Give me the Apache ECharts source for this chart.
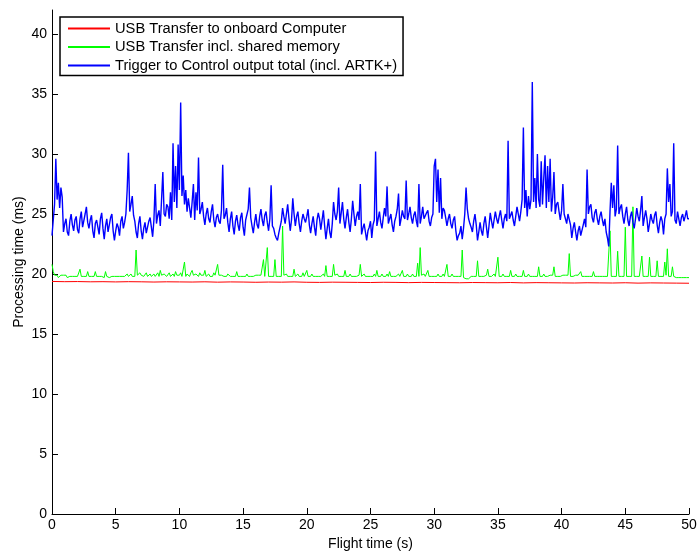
<!DOCTYPE html>
<html>
<head>
<meta charset="utf-8">
<script src="https://cdn.jsdelivr.net/npm/echarts@6/dist/echarts.min.js"></script>
<style>
html,body{margin:0;padding:0;background:#fff;}
#chart{width:698px;height:552px;}
</style>
</head>
<body>
<div id="chart"></div>
<script>
// ---- data ----
const seriesNames = [
  'USB Transfer to onboard Computer',
  'USB Transfer incl. shared memory',
  'Trigger to Control output total (incl. ARTK+)'
];
const xTicks = [0, 5, 10, 15, 20, 25, 30, 35, 40, 45, 50];
const yTicks = [0, 5, 10, 15, 20, 25, 30, 35, 40];
const sampleStep = 0.1; // seconds between samples (blue & green)
const redStep = 1.0;    // seconds between samples (red)

// Trigger to Control output total, sampled every 0.1 s
const blueValues = [
23.2,24.5,25.8,29.6,26.2,27.6,25.5,27.2,26.4,23.5,
24.2,24.6,23.5,23.2,24.4,25.0,24.1,23.6,24.5,24.8,
23.7,23.4,24.6,25.2,23.9,24.0,25.0,25.6,24.3,23.8,
24.5,24.9,23.6,23.0,24.2,24.5,23.9,23.3,24.6,25.1,
23.8,22.9,24.0,24.6,23.5,23.4,24.7,25.0,23.6,22.8,
23.6,24.2,23.9,23.2,24.4,24.8,23.8,24.3,25.0,27.0,
30.1,25.2,25.8,26.5,24.9,24.4,23.5,23.0,24.2,24.8,
23.6,22.9,23.8,24.3,23.4,23.5,24.4,24.7,23.9,23.1,
24.5,27.5,24.2,24.9,25.3,24.0,26.2,28.5,25.0,24.8,
25.8,25.6,24.6,26.8,24.5,30.9,26.0,29.0,25.5,30.8,
27.0,34.3,26.5,28.2,25.8,27.0,25.2,26.3,25.5,24.7,
26.0,27.5,24.5,26.8,25.3,29.7,25.0,25.4,26.0,24.8,
24.1,25.0,25.5,24.6,24.3,25.2,25.8,24.5,23.9,24.7,
25.0,24.4,24.2,25.3,29.1,24.6,24.9,25.5,24.3,23.5,
24.6,25.2,24.0,23.3,24.4,24.9,24.1,23.6,24.7,25.1,
23.9,23.2,24.5,24.6,25.4,27.2,24.7,24.0,23.4,24.3,
25.0,24.1,23.8,24.8,25.4,24.5,24.0,24.9,25.2,24.3,
23.6,24.6,27.4,24.0,23.8,23.3,23.0,22.8,23.4,23.5,
24.4,25.5,24.8,24.2,25.0,25.8,24.6,23.6,24.5,26.3,
25.0,24.0,24.8,25.2,24.2,23.5,24.4,25.0,24.6,24.3,
24.8,25.4,24.1,23.4,24.2,24.8,23.9,23.2,24.5,25.1,
24.6,23.7,24.5,25.3,24.0,22.9,23.8,24.6,23.5,23.0,
24.2,26.0,25.0,24.5,25.2,27.2,24.2,25.1,26.0,24.6,
23.8,24.7,25.4,24.3,23.5,24.6,26.1,25.0,24.0,24.8,
25.2,24.5,27.5,23.3,23.8,24.2,23.5,22.8,23.6,23.9,
24.4,23.0,24.1,24.5,30.2,24.0,24.6,25.2,24.3,23.8,
24.7,25.5,24.8,27.3,24.2,24.6,25.0,24.1,23.5,24.4,
24.8,25.4,26.7,24.0,24.6,25.3,24.8,24.6,27.8,24.5,
25.0,25.6,24.7,24.2,24.9,25.2,24.4,23.9,27.5,24.2,
24.8,25.6,24.6,24.5,25.1,25.3,24.4,24.0,24.7,25.0,
29.0,29.6,26.0,28.7,25.1,28.0,24.6,25.5,25.3,24.7,
24.0,24.6,25.0,24.2,23.8,24.5,24.8,23.6,22.8,23.2,
23.4,24.0,22.9,23.8,25.0,27.2,25.4,24.6,24.2,23.9,
23.5,24.4,25.0,24.1,22.8,23.5,24.3,23.6,23.2,24.2,
24.8,23.9,23.0,24.0,25.1,24.4,23.8,24.5,25.2,24.6,
24.2,24.8,25.3,24.5,23.8,24.6,25.0,24.4,31.1,24.6,
24.9,25.2,24.5,24.0,24.8,25.6,25.0,24.4,25.2,26.2,
32.2,25.5,27.0,24.8,26.5,25.4,26.2,36.0,26.0,28.0,
25.5,30.0,26.2,25.6,29.4,25.8,28.0,29.9,25.5,29.0,
26.0,29.6,25.2,26.4,28.5,25.0,25.8,26.0,25.2,24.5,
25.3,27.5,25.0,24.6,24.2,25.0,24.9,24.1,23.0,23.8,
24.3,23.5,22.8,23.6,24.0,23.2,23.3,24.1,24.6,23.9,
28.7,25.0,25.6,25.8,24.7,24.3,25.1,25.4,24.6,24.1,
24.8,25.2,24.5,24.0,24.6,23.5,23.0,22.3,25.2,27.6,
25.5,27.4,24.8,25.4,30.7,25.0,25.5,25.8,24.8,24.2,
25.0,25.6,24.5,24.0,24.8,25.2,24.3,23.8,24.6,25.5,
24.8,24.4,25.3,26.5,24.0,24.7,25.3,24.6,23.5,24.2,
25.0,24.5,24.2,24.9,25.2,24.1,23.4,24.3,24.8,24.4,
23.3,24.6,25.0,28.8,26.0,27.5,24.8,25.2,30.9,24.5,
24.2,25.2,24.6,24.0,24.7,25.0,24.4,24.8,25.3,24.6,
24.6
];

// USB Transfer incl. shared memory, sampled every 0.1 s
const greenValues = [
20.8,20.2,19.9,19.8,19.9,19.7,19.8,19.9,19.8,19.9,
19.8,19.9,19.7,19.8,19.8,19.9,19.8,19.7,19.8,19.9,
19.8,19.9,20.4,19.8,19.7,19.8,19.9,19.8,20.2,19.8,
19.7,19.8,19.9,19.8,20.2,19.8,19.7,19.8,19.9,19.8,
19.8,19.7,20.2,19.8,19.9,19.7,19.8,19.8,19.7,19.8,
19.9,19.8,19.7,19.8,19.9,19.8,19.7,19.8,19.9,20.0,
19.8,19.9,20.0,19.8,19.9,19.8,22.0,19.9,19.8,20.1,
19.9,20.0,19.8,19.9,20.1,19.8,19.9,20.0,19.8,19.9,
20.0,19.8,19.9,20.1,19.8,20.3,19.9,19.8,20.0,19.9,
19.8,19.9,20.1,19.8,19.9,20.0,19.8,20.2,19.9,19.8,
19.9,20.1,19.8,19.9,21.0,19.8,20.0,19.9,19.8,20.1,
20.3,19.9,19.8,20.0,19.9,19.8,20.1,19.9,19.8,19.9,
20.3,19.8,19.9,20.0,19.8,19.9,19.8,20.1,19.9,19.8,
20.8,19.9,19.8,19.9,20.0,19.8,19.9,19.8,20.0,19.9,
19.8,19.9,19.8,19.9,19.8,20.2,19.8,19.9,19.8,19.9,
19.8,19.9,19.8,20.0,19.8,19.9,19.8,19.9,19.8,19.8,
19.9,19.8,19.9,19.8,19.9,19.8,21.2,19.8,19.9,22.2,
19.8,19.9,19.8,19.9,19.8,21.2,19.8,19.9,19.8,19.9,
19.8,24.0,19.9,19.8,20.0,19.8,19.9,19.8,19.9,19.8,
20.4,19.8,19.9,20.0,19.8,19.9,19.8,20.1,19.8,19.9,
20.3,19.8,19.9,19.8,20.0,19.8,19.9,19.8,19.9,19.8,
19.9,19.8,19.9,20.0,19.8,20.7,19.8,19.9,19.8,19.9,
19.8,20.8,19.9,19.8,20.0,19.8,19.9,19.8,19.9,19.8,
20.3,19.8,19.9,19.8,20.0,19.8,19.9,19.8,19.9,19.8,
19.8,19.9,20.8,19.8,19.9,20.0,19.8,19.9,19.8,19.9,
19.8,19.9,19.8,20.0,19.8,20.3,19.8,19.9,19.8,20.0,
19.8,19.9,19.8,20.0,19.8,20.2,19.8,19.9,19.8,19.9,
19.8,19.9,20.0,19.8,19.9,20.3,19.8,19.9,19.8,20.0,
19.8,19.9,19.8,20.0,19.8,19.9,19.8,20.9,19.8,22.2,
19.9,19.8,20.0,19.8,19.9,20.3,19.8,19.9,19.8,19.9,
19.8,19.9,19.8,20.0,19.8,19.9,19.8,20.0,19.8,19.9,
20.8,19.8,19.9,19.8,20.0,19.8,19.9,19.8,19.9,19.8,
19.9,19.8,22.0,19.7,19.6,19.6,19.7,19.6,19.7,19.8,
19.7,19.8,19.7,19.8,21.1,19.8,19.7,19.8,19.9,19.8,
19.8,19.9,20.4,19.8,19.9,19.8,19.9,20.0,19.8,19.9,
21.4,19.8,19.9,19.8,20.0,19.8,19.9,19.8,19.9,19.8,
20.3,19.8,19.9,19.8,20.0,19.8,19.9,19.8,19.9,19.8,
20.3,19.8,19.9,19.8,20.0,19.8,19.9,19.8,19.9,19.8,
19.9,19.8,20.6,19.8,19.9,19.8,20.0,19.8,19.9,19.8,
19.8,19.9,19.8,19.9,20.6,19.8,19.9,19.8,19.9,19.8,
19.8,19.9,19.8,19.9,19.8,19.9,21.7,19.8,19.9,19.8,
19.8,19.9,19.8,19.9,19.8,20.2,19.8,19.9,19.8,19.9,
19.8,19.9,19.8,19.9,19.8,20.2,19.8,19.9,19.8,19.9,
19.8,19.7,19.8,19.9,19.8,19.7,19.8,19.9,23.6,19.8,
19.9,19.8,19.9,19.8,21.9,19.8,19.9,19.8,19.9,19.8,
23.9,19.8,19.9,19.8,19.9,19.8,25.6,19.8,19.9,19.8,
19.9,19.8,19.9,21.5,19.8,19.9,19.8,19.9,19.8,21.4,
19.8,19.9,19.8,19.9,19.8,21.1,19.8,19.9,19.8,19.9,
19.8,21.0,19.9,22.1,19.8,19.9,19.8,20.6,19.8,19.9,
19.7,19.8,19.7,19.6,19.7,19.6,19.7,19.6,19.7,19.7,
19.7
];

// USB Transfer to onboard Computer, sampled every 1 s
const redValues = [
19.38,19.36,19.37,19.35,19.36,19.34,19.36,19.35,19.33,19.35,
19.34,19.33,19.35,19.32,19.34,19.33,19.31,19.33,19.32,19.34,
19.31,19.30,19.32,19.31,19.30,19.29,19.31,19.30,19.28,19.30,
19.29,19.28,19.27,19.29,19.28,19.27,19.29,19.26,19.28,19.27,
19.26,19.25,19.27,19.26,19.25,19.27,19.24,19.26,19.25,19.24,
19.23
];

// ---- chart ----
const FONT = '"Liberation Sans", Arial, Helvetica, sans-serif';
const toPairs = (vals, step) => vals.map((v, i) => [+(i * step).toFixed(2), v]);

const chart = echarts.init(document.getElementById('chart'), null, {renderer: 'canvas'});
chart.setOption({
  animation: false,
  backgroundColor: '#fff',
  grid: {left: 52, right: 9, top: 10, bottom: 38, containLabel: false, outerBoundsMode: 'none'},
  legend: {
    orient: 'vertical',
    left: 60, top: 17,
    data: seriesNames,
    itemWidth: 42, itemHeight: 12, itemGap: 3.5,
    padding: [4, 6, 2.5, 7],
    borderColor: '#000', borderWidth: 1.5,
    backgroundColor: '#fff',
    itemStyle: {opacity: 0},
    textStyle: {fontFamily: FONT, fontSize: 14.7, color: '#000', lineHeight: 15}
  },
  xAxis: {
    type: 'value', min: 0, max: 50, interval: 5,
    name: 'Flight time (s)', nameLocation: 'middle', nameGap: 23, nameMoveOverlap: false,
    nameTextStyle: {fontFamily: FONT, fontSize: 14, color: '#000'},
    axisLine: {show: true, onZero: false, lineStyle: {color: '#000', width: 1}},
    axisTick: {show: true, inside: true, length: 6, lineStyle: {color: '#000'}, customValues: xTicks},
    axisLabel: {fontFamily: FONT, fontSize: 14, color: '#000', margin: 4, customValues: xTicks},
    splitLine: {show: false}
  },
  yAxis: {
    type: 'value', min: 0, max: 42, interval: 5,
    name: 'Processing time (ms)', nameLocation: 'middle', nameGap: 26, nameMoveOverlap: false,
    nameTextStyle: {fontFamily: FONT, fontSize: 14, color: '#000'},
    axisLine: {show: true, onZero: false, lineStyle: {color: '#000', width: 1}},
    axisTick: {show: true, inside: true, length: 6, lineStyle: {color: '#000'}, customValues: yTicks},
    axisLabel: {fontFamily: FONT, fontSize: 14, color: '#000', margin: 5, customValues: yTicks},
    splitLine: {show: false}
  },
  series: [
    {name: seriesNames[0], type: 'line', data: toPairs(redValues, redStep), symbol: 'none',
     lineStyle: {color: '#ff0000', width: 1}, itemStyle: {color: '#ff0000'}},
    {name: seriesNames[1], type: 'line', data: toPairs(greenValues, sampleStep), symbol: 'none',
     lineStyle: {color: '#00ff00', width: 1}, itemStyle: {color: '#00ff00'}},
    {name: seriesNames[2], type: 'line', data: toPairs(blueValues, sampleStep), symbol: 'none',
     lineStyle: {color: '#0000ff', width: 1.4}, itemStyle: {color: '#0000ff'}}
  ]
});
</script>
</body>
</html>
